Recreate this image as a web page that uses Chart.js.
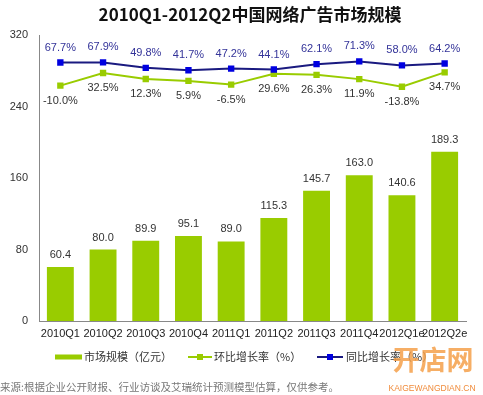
<!DOCTYPE html>
<html><head><meta charset="utf-8">
<script src="https://cdn.jsdelivr.net/npm/chart.js@4/dist/chart.umd.min.js"></script>
<style>html,body{margin:0;padding:0;background:#fff}#wrap{width:483px;height:395px;position:relative}</style>
</head><body><div id="wrap"><canvas id="c" width="483" height="395"></canvas></div>
<script>
const categories = ['2010Q1','2010Q2','2010Q3','2010Q4','2011Q1','2011Q2','2011Q3','2011Q4','2012Q1e','2012Q2e'];
const marketSize = [60.4, 80.0, 89.9, 95.1, 89.0, 115.3, 145.7, 163.0, 140.6, 189.3];
const qoqGrowth = [-10.0, 32.5, 12.3, 5.9, -6.5, 29.6, 26.3, 11.9, -13.8, 34.7];
const yoyGrowth = [67.7, 67.9, 49.8, 41.7, 47.2, 44.1, 62.1, 71.3, 58.0, 64.2];
const yTicks = [0, 80, 160, 240, 320];
const seriesNames = ['市场规模（亿元）', '环比增长率（%）', '同比增长率（%）'];
const titleText = '2010Q1-2012Q2中国网络广告市场规模';
const sourceText = '来源:根据企业公开财报、行业访谈及艾瑞统计预测模型估算，仅供参考。';

const FONT = '"Liberation Sans","Noto Sans CJK SC",sans-serif';
const CJK = '"Noto Sans CJK SC","Liberation Sans",sans-serif';
const GREEN = '#99CC00';
const NAVY = '#1A1A80';
const BLUE = '#0000E0';

const labelsPlugin = {
  id: 'labels',
  afterDatasetsDraw(chart) {
    const ctx = chart.ctx;
    ctx.save();
    ctx.textAlign = 'center';
    ctx.textBaseline = 'middle';
    ctx.font = '11px ' + FONT;
    chart.getDatasetMeta(0).data.forEach((el, i) => {
      ctx.fillStyle = '#333';
      ctx.fillText(marketSize[i].toFixed(1), el.x, el.y - 12);
    });
    chart.getDatasetMeta(1).data.forEach((el, i) => {
      ctx.fillStyle = '#333';
      ctx.fillText(qoqGrowth[i].toFixed(1) + '%', el.x, el.y + 15);
    });
    chart.getDatasetMeta(2).data.forEach((el, i) => {
      ctx.fillStyle = '#333399';
      ctx.fillText(yoyGrowth[i].toFixed(1) + '%', el.x, el.y - 15);
    });
    ctx.restore();
  },
  afterDraw(chart) {
    const ctx = chart.ctx;
    ctx.save();
    // title
    ctx.fillStyle = '#111';
    ctx.textAlign = 'center';
    ctx.textBaseline = 'middle';
    ctx.font = 'bold 17px ' + CJK;
    ctx.fillText(titleText, 250, 15);
    // legend
    const ly = 357;
    ctx.textAlign = 'left';
    ctx.font = '11px ' + CJK;
    ctx.fillStyle = GREEN;
    ctx.fillRect(55, ly - 2.5, 27, 5);
    ctx.fillStyle = '#333';
    ctx.fillText(seriesNames[0], 84, ly);
    ctx.strokeStyle = GREEN; ctx.lineWidth = 2;
    ctx.beginPath(); ctx.moveTo(188, ly); ctx.lineTo(212, ly); ctx.stroke();
    ctx.fillStyle = GREEN; ctx.fillRect(197, ly - 3, 6, 6);
    ctx.fillStyle = '#333';
    ctx.fillText(seriesNames[1], 214, ly);
    ctx.strokeStyle = NAVY;
    ctx.beginPath(); ctx.moveTo(317, ly); ctx.lineTo(343, ly); ctx.stroke();
    ctx.fillStyle = BLUE; ctx.fillRect(327, ly - 3, 6, 6);
    ctx.fillStyle = '#333';
    ctx.fillText(seriesNames[2], 346, ly);
    // source
    ctx.fillStyle = '#777';
    ctx.font = '10.5px ' + CJK;
    ctx.fillText(sourceText, 0, 387);
    // watermark
    ctx.globalAlpha = 0.85;
    ctx.fillStyle = '#F5A04A';
    ctx.font = 'bold 27px ' + CJK;
    ctx.textAlign = 'center';
    ctx.fillText('开店网', 433, 360);
    ctx.globalAlpha = 1;
    ctx.fillStyle = '#F08C3C';
    ctx.font = '8.5px ' + FONT;
    ctx.fillText('KAIGEWANGDIAN.CN', 432, 389);
    ctx.restore();
  }
};

new Chart(document.getElementById('c'), {
  data: {
    labels: categories,
    datasets: [
      { type: 'bar', label: seriesNames[0], data: marketSize, backgroundColor: GREEN,
        yAxisID: 'y', barPercentage: 0.63, categoryPercentage: 1, order: 3 },
      { type: 'line', label: seriesNames[1], data: qoqGrowth, borderColor: GREEN, borderWidth: 2,
        backgroundColor: GREEN, pointStyle: 'rect', pointRadius: 4.5, pointBackgroundColor: GREEN,
        pointBorderWidth: 0, yAxisID: 'y1', order: 2, tension: 0 },
      { type: 'line', label: seriesNames[2], data: yoyGrowth, borderColor: NAVY, borderWidth: 2,
        backgroundColor: BLUE, pointStyle: 'rect', pointRadius: 4.5, pointBackgroundColor: BLUE,
        pointBorderWidth: 0, yAxisID: 'y1', order: 1, tension: 0 }
    ]
  },
  options: {
    responsive: false,
    animation: false,
    layout: { padding: { left: 0, right: 17, top: 35, bottom: 54 } },
    plugins: { legend: { display: false }, title: { display: false }, tooltip: { enabled: false } },
    scales: {
      x: {
        grid: { display: false, drawTicks: false },
        border: { display: true, color: '#888', width: 1 },
        ticks: { color: '#222', font: { size: 11, family: FONT }, padding: 6, maxRotation: 0, autoSkip: false },
        afterFit(s) { s.height = 20; }
      },
      y: {
        min: 0, max: 320,
        grid: { display: false, drawTicks: false },
        border: { display: true, color: '#888', width: 1 },
        afterBuildTicks(s) { s.ticks = yTicks.map(v => ({ value: v })); },
        ticks: { color: '#333', font: { size: 11, family: FONT }, padding: 11 },
        afterFit(s) { s.width = 39; }
      },
      y1: { min: -800, max: 160, display: false, position: 'right' }
    }
  },
  plugins: [labelsPlugin]
});
</script>
</body></html>
